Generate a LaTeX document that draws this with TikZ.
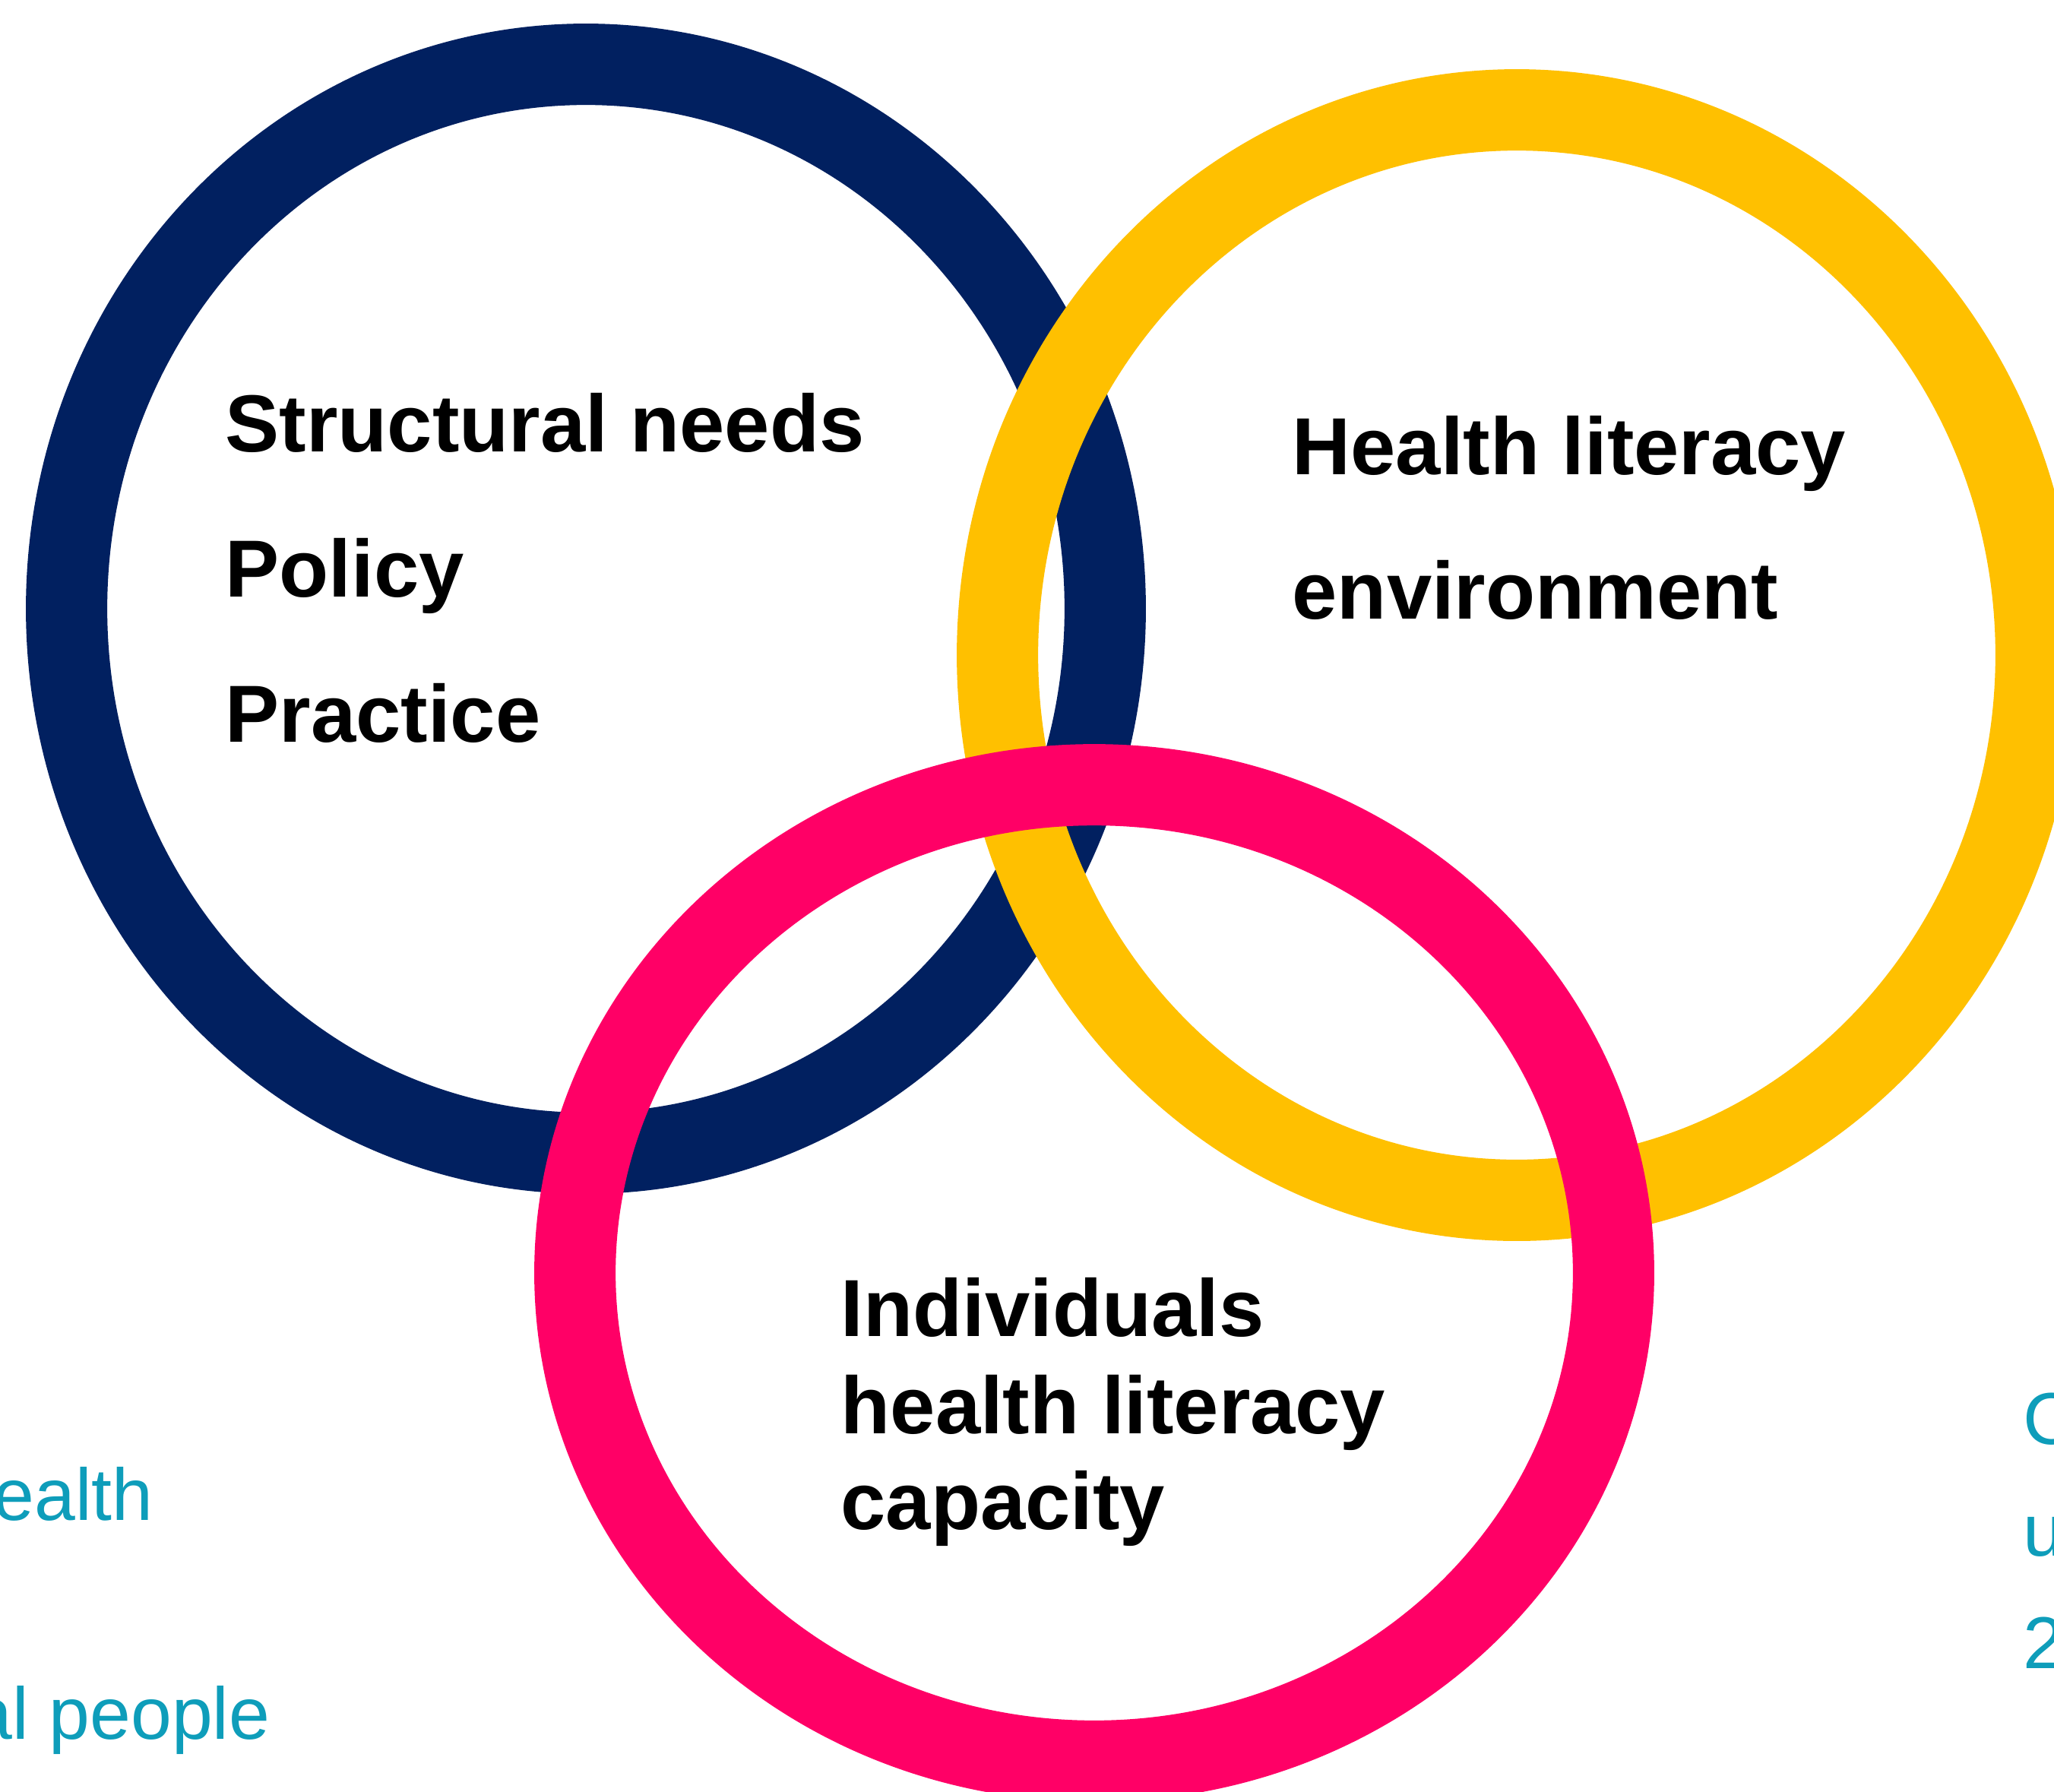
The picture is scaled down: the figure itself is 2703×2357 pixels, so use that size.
\documentclass[tikz,border=0pt]{standalone}
\usepackage{fontspec}
\setmainfont{Liberation Sans}
\usetikzlibrary{positioning}
\definecolor{ringnavy}{HTML}{012060}
\definecolor{ringyellow}{HTML}{FFC000}
\definecolor{ringpink}{HTML}{FF0066}
\definecolor{notecyan}{HTML}{0E9DBA}
\tikzstyle{ring} = [line width=1.07cm]
\tikzstyle{heading} = [anchor=base west, inner sep=0pt, font=\bfseries\fontsize{30.3}{36}\selectfont]
\tikzstyle{note} = [anchor=base west, inner sep=0pt, text=notecyan, font=\fontsize{27.5}{33}\selectfont]

\begin{document}
\begin{tikzpicture}[x=0.01cm, y=-0.01cm]
    \useasboundingbox (0,0) rectangle (2703,2357);

    % Rings.
    \draw [ring, ringnavy] (771,801) ellipse [x radius=6.83cm, y radius=7.16cm];
    \draw [ring, ringyellow] (1996,862) ellipse [x radius=6.83cm, y radius=7.17cm];
    \draw [ring, ringpink] (1440,1675) ellipse [x radius=6.83cm, y radius=6.42cm];

    % Structural needs.
    \node (needs) [heading] at (296,594) {Structural needs};
    \node (policy) [heading] at (296,785) {Policy};
    \node (practice) [heading] at (296,976) {Practice};

    % Environment.
    \node (env1) [heading] at (1700,624) {Health literacy};
    \node (env2) [heading] at (1700,814) {environment};

    % Capacity.
    \foreach\i/\y/\txt in {1/1758/Individuals, 2/1886/health literacy, 3/2012/capacity} {
        \node (cap\i) [heading] at (1106,\y) {\txt};
    }

    % Cut-off notes.
    \node (leftnote1) [note, anchor=base east] at (202,2000) {ealth};
    \node (leftnote2) [note, anchor=base east] at (356,2288) {al people};
    \foreach\i/\y/\txt in {1/1900/C, 2/2047/u, 3/2195/2} {
        \node (rightnote\i) [note] at (2662,\y) {\txt};
    }
\end{tikzpicture}
\end{document}
